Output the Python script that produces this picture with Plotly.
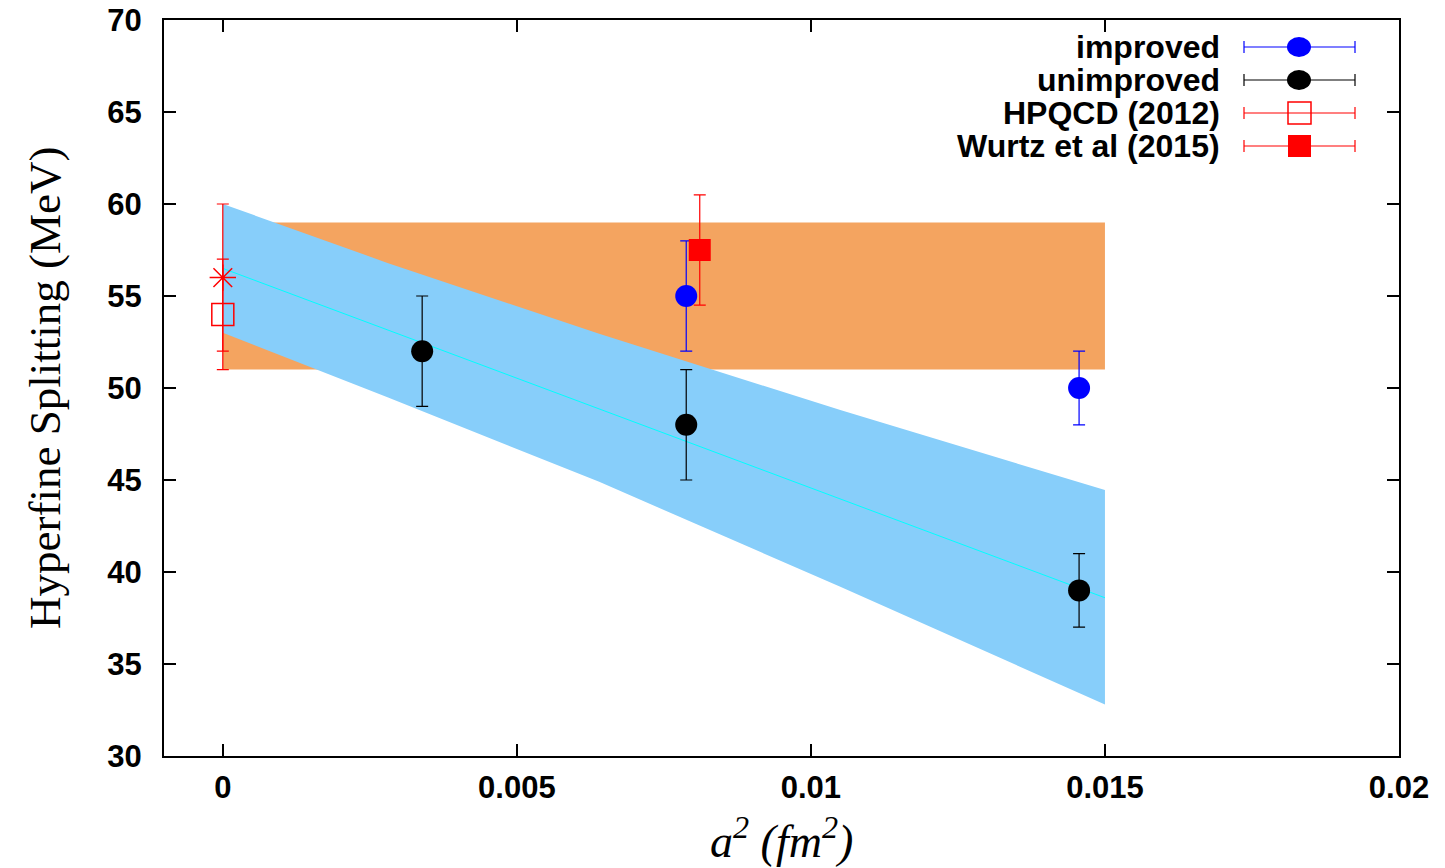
import plotly.graph_objects as go

# ---------------- data ----------------
impr_x = [0.00788, 0.01456]
impr_y = [55.0, 50.0]
impr_err = [3.0, 2.0]

unimpr_x = [0.00339, 0.00788, 0.01456]
unimpr_y = [52.0, 48.0, 39.0]
unimpr_err = [3.0, 3.0, 2.0]

hpqcd_x = [0.0]
hpqcd_y = [54.0]
hpqcd_err = [3.0]

wurtz_x = [0.00811]
wurtz_y = [57.5]
wurtz_err = [3.0]

star_x = [0.0]
star_y = [56.0]
star_err = [4.0]

# orange band (x range and y range)
orange_x = [0.0, 0.015]
orange_lo = 51.0
orange_hi = 59.0

# blue fit band
band_x = [0.0, 0.0028, 0.0064, 0.0105, 0.015]
band_upper = [60.0, 56.8, 52.95, 48.8, 44.45]
band_lower = [53.0, 49.5, 44.9, 39.2, 32.8]

fit_x = [0.0, 0.015]
fit_y = [56.5, 38.6]

x_tickvals = [0, 0.005, 0.01, 0.015, 0.02]
x_ticktext = ["0", "0.005", "0.01", "0.015", "0.02"]
y_tickvals = [30, 35, 40, 45, 50, 55, 60, 65, 70]

legend_labels = ["improved", "unimproved", "HPQCD (2012)", "Wurtz et al (2015)"]
legend_colors = ["#0000ff", "#000000", "#ff0000", "#ff0000"]
legend_markers = ["circle", "circle", "square-open", "square"]

# ---------------- figure ----------------
fig = go.Figure()

fig.add_trace(go.Scatter(
    x=[orange_x[0], orange_x[1], orange_x[1], orange_x[0]],
    y=[orange_lo, orange_lo, orange_hi, orange_hi],
    fill="toself", fillcolor="#f4a460", mode="lines", line=dict(width=0),
    hoverinfo="skip", showlegend=False))

fig.add_trace(go.Scatter(
    x=band_x + band_x[::-1],
    y=band_upper + band_lower[::-1],
    fill="toself", fillcolor="#87cefa", mode="lines", line=dict(width=0),
    hoverinfo="skip", showlegend=False))

fig.add_trace(go.Scatter(
    x=fit_x, y=fit_y, mode="lines", line=dict(color="#00ffff", width=1),
    hoverinfo="skip", showlegend=False))


def pts(x, y, err, color, symbol, lw=0):
    return go.Scatter(
        x=x, y=y, mode="markers",
        marker=dict(symbol=symbol, size=22, color=color,
                    line=dict(width=lw, color=color)),
        error_y=dict(type="data", array=err, visible=True, color=color,
                     thickness=1.2, width=6),
        showlegend=False)


fig.add_trace(pts(star_x, star_y, star_err, "#ff0000", "asterisk-open", 1.5))
fig.add_trace(pts(hpqcd_x, hpqcd_y, hpqcd_err, "#ff0000", "square-open", 1.5))
fig.add_trace(pts(unimpr_x, unimpr_y, unimpr_err, "#000000", "circle"))
fig.add_trace(pts(impr_x, impr_y, impr_err, "#0000ff", "circle"))
fig.add_trace(pts(wurtz_x, wurtz_y, wurtz_err, "#ff0000", "square"))

# ---------------- custom legend (text left, sample right) ----------------
L, R, T, B = 164, 1399, 20, 756
PW, PH = R - L, B - T


def px(xp):
    return (xp - L) / PW


def py(yp):
    return (B - yp) / PH


shapes = []
annotations = []
leg_y = [47, 80, 113, 146]
for lab, col, mk, yy in zip(legend_labels, legend_colors, legend_markers, leg_y):
    annotations.append(dict(
        xref="paper", yref="paper", x=px(1222), y=py(yy), xanchor="right",
        yanchor="middle", text=lab, showarrow=False,
        font=dict(family="Liberation Sans", size=32, color="black", weight="bold")))
    shapes.append(dict(type="line", xref="paper", yref="paper",
                       x0=px(1244), x1=px(1355), y0=py(yy), y1=py(yy),
                       line=dict(color=col, width=1.2)))
    for xc in (1244, 1355):
        shapes.append(dict(type="line", xref="paper", yref="paper",
                           x0=px(xc), x1=px(xc), y0=py(yy - 6), y1=py(yy + 6),
                           line=dict(color=col, width=1.2)))
    if mk == "circle":
        shapes.append(dict(type="circle", xref="paper", yref="paper",
                           x0=px(1287), x1=px(1311), y0=py(yy + 10), y1=py(yy - 10),
                           fillcolor=col, line=dict(color=col, width=0)))
    elif mk == "square":
        shapes.append(dict(type="rect", xref="paper", yref="paper",
                           x0=px(1288), x1=px(1311), y0=py(yy + 11), y1=py(yy - 11),
                           fillcolor=col, line=dict(color=col, width=0)))
    else:
        shapes.append(dict(type="rect", xref="paper", yref="paper",
                           x0=px(1288), x1=px(1311), y0=py(yy + 11), y1=py(yy - 11),
                           fillcolor="rgba(0,0,0,0)", line=dict(color=col, width=1.5)))

# axis titles
annotations.append(dict(
    xref="paper", yref="paper", x=px(45), y=0.5, xanchor="center", yanchor="middle",
    text="Hyperfine Splitting (MeV)", textangle=-90, showarrow=False,
    font=dict(family="Liberation Serif", size=45, color="black")))
annotations.append(dict(
    xref="paper", yref="paper", x=0.5, y=py(838), xanchor="center", yanchor="middle",
    text="<i>a<sup>2</sup> (fm<sup>2</sup>)</i>", showarrow=False,
    font=dict(family="Liberation Serif", size=46, color="black")))

tickfont = dict(family="Liberation Sans", size=31, color="black", weight="bold")

fig.update_layout(
    width=1445, height=868,
    margin=dict(l=L, r=1445 - R, t=T, b=868 - B, autoexpand=False),
    paper_bgcolor="white", plot_bgcolor="white",
    shapes=shapes, annotations=annotations,
    showlegend=False,
    xaxis=dict(range=[-0.001, 0.02], tickvals=x_tickvals, ticktext=x_ticktext,
               ticks="inside", ticklen=12, tickwidth=2, tickcolor="black",
               showline=True, linewidth=2, linecolor="black", mirror="ticks",
               showgrid=False, zeroline=False, tickfont=tickfont,
               ticklabelstandoff=3, automargin=False),
    yaxis=dict(range=[30, 70], tickvals=y_tickvals,
               ticks="inside", ticklen=12, tickwidth=2, tickcolor="black",
               showline=True, linewidth=2, linecolor="black", mirror="ticks",
               showgrid=False, zeroline=False, tickfont=tickfont,
               ticklabelstandoff=14, automargin=False),
)

fig.write_html("out.html")
